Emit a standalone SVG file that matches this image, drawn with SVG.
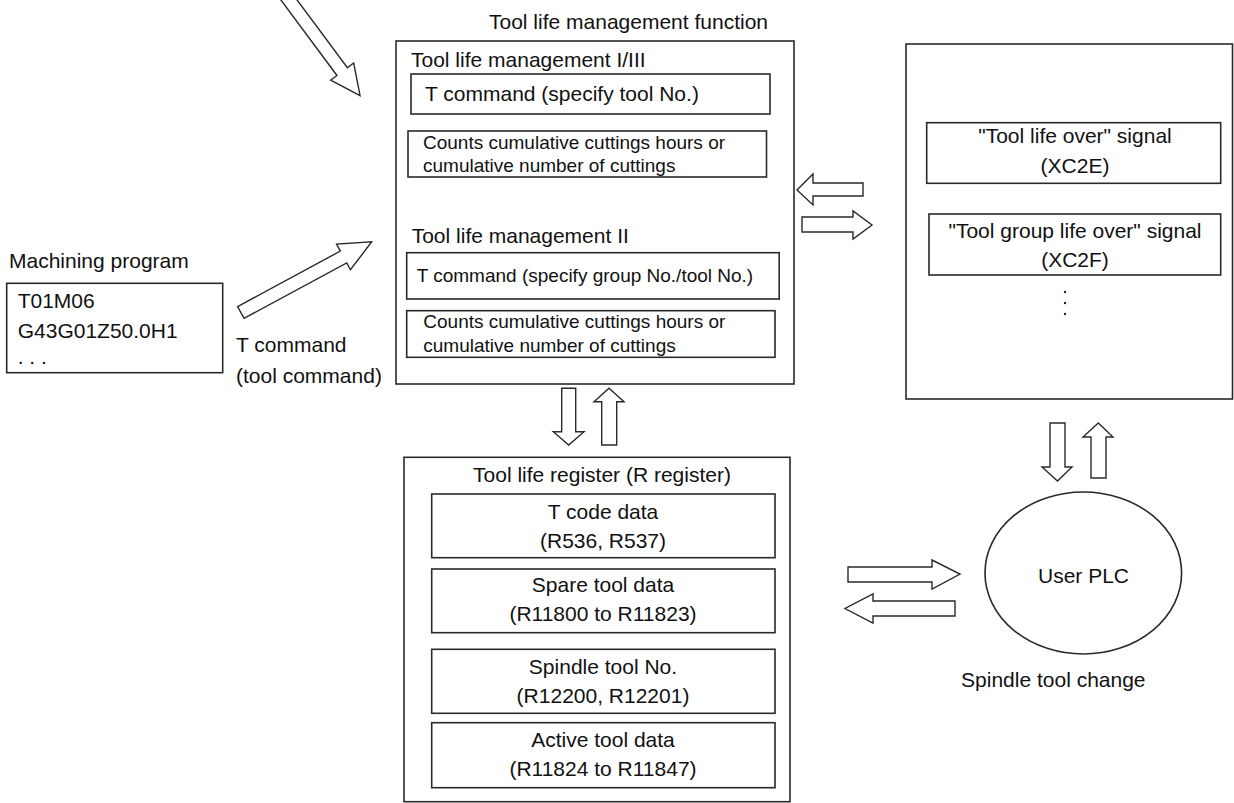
<svg xmlns="http://www.w3.org/2000/svg" width="1234" height="803" viewBox="0 0 1234 803">
<style>
  .bg { fill: #ffffff; }
  .box { fill: none; stroke: #2a2a2a; stroke-width: 1.6; }
  .arr { fill: #ffffff; stroke: #2a2a2a; stroke-width: 1.4; stroke-linejoin: miter; }
  text { font-family: "Liberation Sans", Arial, sans-serif; fill: #111111; }
  .t21 { font-size: 21px; }
  .t19 { font-size: 19px; }
  .mid { text-anchor: middle; }
</style>
<rect class="bg" x="0" y="0" width="1234" height="803"/>

<g id="connectors">
  <polygon class="arr" transform="translate(285.3,-5) rotate(53.4)" points="0,-6.5 95.4,-6.5 95.4,-14.3 125.4,0 95.4,14.3 95.4,6.5 0,6.5"/>
  <polygon class="arr" transform="translate(240.8,312.5) rotate(-28.4)" points="0,-6.7 116.8,-6.7 116.8,-14.6 148.8,0 116.8,14.6 116.8,6.7 0,6.7"/>
  <polygon class="arr" points="863,183 813,183 813,174 797,190 813,205 813,196 863,196"/>
  <polygon class="arr" points="802,217 853,217 853,211 872,225 853,239 853,232 802,232"/>
  <polygon class="arr" points="561.7,388.3 575.7,388.3 575.7,431.7 584,431.7 568.7,445 553.3,431.7 561.7,431.7"/>
  <polygon class="arr" points="601.7,445 601.7,401.7 594,401.7 609,388.3 624,401.7 616.7,401.7 616.7,445"/>
  <polygon class="arr" points="1050,423 1065,423 1065,467 1072,467 1057.5,481 1042,467 1050,467"/>
  <polygon class="arr" points="1091,478 1091,437 1083,437 1098.3,423 1113,437 1106,437 1106,478"/>
  <polygon class="arr" points="848,567 932,567 932,560 960,574 932,589 932,582 848,582"/>
  <polygon class="arr" points="955,601 873,601 873,594 845,608.5 873,623 873,616 955,616"/>
</g>

<g id="machining-program">
  <text class="t21" x="9" y="268.3">Machining program</text>
  <rect class="box" x="6.7" y="283.3" width="216" height="89.4" stroke-width="2"/>
  <text class="t21" x="17.7" y="308.3">T01M06</text>
  <text class="t21" x="17.7" y="338.3">G43G01Z50.0H1</text>
  <text class="t21" x="17.7" y="364">. . .</text>
</g>

<g id="t-command-label">
  <text class="t21" x="236" y="351.7">T command</text>
  <text class="t21" x="236" y="382.7">(tool command)</text>
</g>

<g id="tool-life-management-function">
  <text class="t21" x="489" y="29">Tool life management function</text>
  <rect class="box" x="396" y="41" width="398" height="343"/>
  <text class="t21" x="411" y="66.5">Tool life management I/III</text>
  <rect class="box" x="411" y="74" width="359" height="40"/>
  <text class="t21" x="425" y="101">T command (specify tool No.)</text>
  <rect class="box" x="408" y="131" width="358.5" height="46"/>
  <text class="t19" x="423" y="149">Counts cumulative cuttings hours or</text>
  <text class="t19" x="423" y="172">cumulative number of cuttings</text>
  <text class="t21" x="411.7" y="242.7">Tool life management II</text>
  <rect class="box" x="406.7" y="252.7" width="372.5" height="46.3"/>
  <text class="t19" x="416.7" y="281.7">T command (specify group No./tool No.)</text>
  <rect class="box" x="406.7" y="310.7" width="368.3" height="46.6"/>
  <text class="t19" x="423.3" y="328.3">Counts cumulative cuttings hours or</text>
  <text class="t19" x="423.3" y="351.7">cumulative number of cuttings</text>
</g>

<g id="signals">
  <rect class="box" x="906" y="44" width="326.5" height="355"/>
  <rect class="box" x="926.7" y="122.7" width="294" height="60.6"/>
  <text class="t21 mid" x="1075" y="143.3">"Tool life over" signal</text>
  <text class="t21 mid" x="1075" y="173.3">(XC2E)</text>
  <rect class="box" x="929" y="214" width="291.7" height="61"/>
  <text class="t21 mid" x="1075" y="238.3">"Tool group life over" signal</text>
  <text class="t21 mid" x="1075" y="267.3">(XC2F)</text>
  <circle cx="1065" cy="292" r="1.2" fill="#222"/>
  <circle cx="1065" cy="303" r="1.2" fill="#222"/>
  <circle cx="1065" cy="314" r="1.2" fill="#222"/>
</g>

<g id="tool-life-register">
  <rect class="box" x="404" y="457.3" width="386" height="344.4"/>
  <text class="t21 mid" x="602" y="481.7">Tool life register (R register)</text>
  <rect class="box" x="431.7" y="494" width="343.3" height="63.7"/>
  <text class="t21 mid" x="603" y="519">T code data</text>
  <text class="t21 mid" x="603" y="547.7">(R536, R537)</text>
  <rect class="box" x="431.7" y="569" width="343.3" height="63.7"/>
  <text class="t21 mid" x="603" y="591.7">Spare tool data</text>
  <text class="t21 mid" x="603" y="620.7">(R11800 to R11823)</text>
  <rect class="box" x="431.7" y="649.3" width="343.3" height="64"/>
  <text class="t21 mid" x="603" y="674">Spindle tool No.</text>
  <text class="t21 mid" x="603" y="703.3">(R12200, R12201)</text>
  <rect class="box" x="431.7" y="722.7" width="343.3" height="65"/>
  <text class="t21 mid" x="603" y="746.7">Active tool data</text>
  <text class="t21 mid" x="603" y="776">(R11824 to R11847)</text>
</g>

<g id="user-plc">
  <ellipse class="box" cx="1083.3" cy="573" rx="98.3" ry="81"/>
  <text class="t21 mid" x="1083.5" y="583">User PLC</text>
  <text class="t21 mid" x="1053.3" y="687">Spindle tool change</text>
</g>
</svg>
